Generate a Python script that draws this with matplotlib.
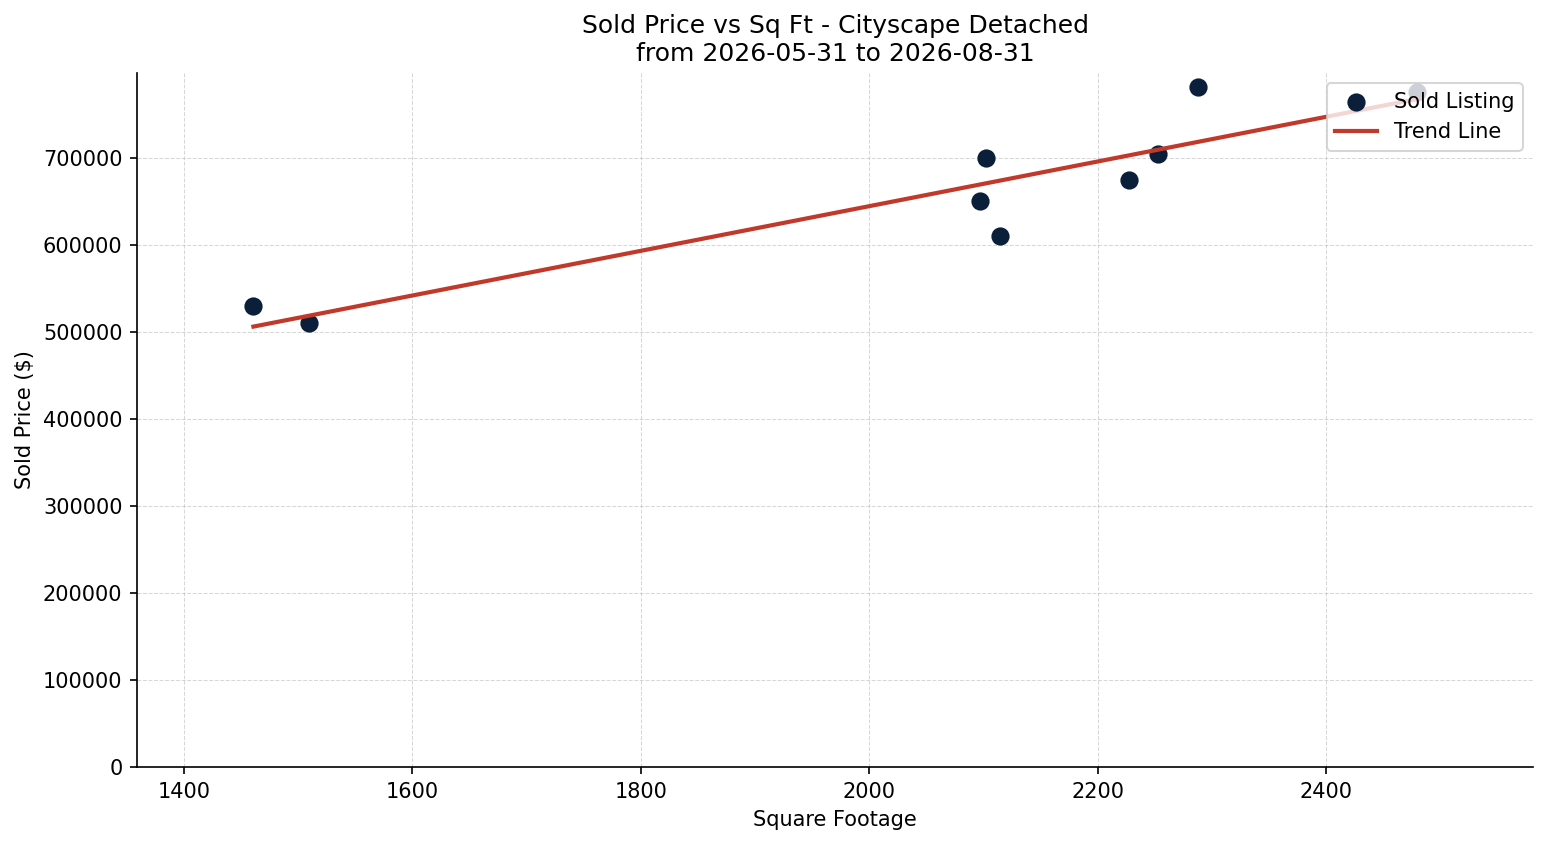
import matplotlib
matplotlib.use("Agg")
import matplotlib.pyplot as plt
import numpy as np

# sold listings
sqft = [1461, 1510, 2097, 2102, 2114, 2227, 2253, 2288, 2479]
price = [530000, 510000, 650000, 700000, 610000, 675000, 705000, 782000, 776000]

title = "Sold Price vs Sq Ft - Cityscape Detached\nfrom 2026-05-31 to 2026-08-31"

x = np.array(sqft, dtype=float)
y = np.array(price, dtype=float)
slope, intercept = np.polyfit(x, y, 1)
x_fit = np.array([x.min(), x.max()])

fig, ax = plt.subplots(figsize=(1547 / 150, 845 / 150), dpi=150)
fig.subplots_adjust(left=0.0886, right=0.991, top=0.9136, bottom=0.0923)

ax.scatter(x, y, s=60, color="#0b1f3a", label="Sold Listing", zorder=3)
ax.plot(x_fit, slope * x_fit + intercept, color="#c0392b", lw=2, label="Trend Line", zorder=4)

ax.set_title(title, fontsize=12)
ax.set_xlabel("Square Footage")
ax.set_ylabel("Sold Price ($)")
pad = (x.max() - x.min()) * 0.1
ax.set_xlim(x.min() - pad, x.max() + pad)
ax.set_ylim(0, y.max() * 1.02)
ax.grid(True, linestyle="--", linewidth=0.5, alpha=0.5)
ax.spines["top"].set_visible(False)
ax.spines["right"].set_visible(False)
ax.legend(loc="upper right")

fig.savefig("out.png", dpi=150)
